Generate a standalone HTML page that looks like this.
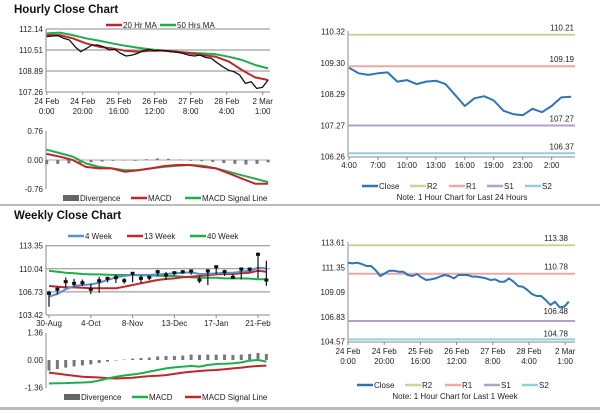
<!DOCTYPE html>
<html><head><meta charset="utf-8"><style>
html,body{margin:0;padding:0;background:#fff;}
svg{display:block;font-family:"Liberation Sans",Arial,sans-serif;}
text{fill:#222;font-size:8px;}
.t{font-size:11.5px;font-weight:bold;fill:#111;}
</style></head><body>
<svg id="chart" width="600" height="413" viewBox="0 0 600 413" xmlns="http://www.w3.org/2000/svg">
<text class="t" x="14" y="13">Hourly Close Chart</text>
<text class="t" x="14" y="219">Weekly Close Chart</text>
<rect x="0" y="204" width="600" height="2" fill="#bbb"/>
<rect x="0" y="407" width="600" height="3" fill="#bbb"/>
</svg>
<script>
// ---- Hourly (1 week) data ----
const hourlyClose=[111.55,111.60,111.62,111.42,111.29,110.77,110.38,110.64,110.90,110.90,110.77,110.51,110.56,110.25,110.05,110.12,110.25,110.46,110.56,110.46,110.51,110.46,110.38,110.33,110.25,110.12,110.05,110.12,109.94,109.87,109.53,109.22,108.96,108.83,108.57,107.93,108.06,107.54,107.62,108.19];
const ma20=[111.67,111.67,111.42,111.03,110.77,110.64,110.46,110.38,110.46,110.46,110.38,110.25,110.12,109.99,109.61,108.96,108.39,108.19];
const ma50=[111.80,111.86,111.67,111.42,111.24,111.03,110.85,110.69,110.56,110.46,110.38,110.30,110.25,110.18,109.99,109.74,109.35,109.09];
const hMacd=[0.16,0.09,0.00,-0.18,-0.22,-0.22,-0.31,-0.27,-0.22,-0.16,-0.13,-0.13,-0.18,-0.22,-0.35,-0.49,-0.62,-0.62];
const hSignal=[0.27,0.18,0.09,-0.09,-0.18,-0.22,-0.27,-0.27,-0.22,-0.18,-0.15,-0.13,-0.15,-0.22,-0.31,-0.40,-0.49,-0.58];
const hDiv=[-0.11,-0.10,-0.09,-0.09,-0.06,-0.04,-0.02,0,-0.02,0.02,0.04,0.03,0.01,-0.02,-0.03,-0.05,-0.08,-0.10,-0.12,-0.10,-0.06];
const hourTicks=['24 Feb|0:00','24 Feb|20:00','25 Feb|16:00','26 Feb|12:00','27 Feb|8:00','28 Feb|4:00','2 Mar|1:00'];
const tlYTicks=[112.14,110.51,108.89,107.26];
// ---- 24 hour data ----
const dayClose=[109.14,108.96,108.91,108.96,108.99,108.69,108.74,108.61,108.69,108.72,108.61,108.26,107.90,108.15,108.22,108.08,107.75,107.64,107.60,107.81,107.70,107.90,108.18,108.20];
const dayTicks=['4:00','7:00','10:00','13:00','16:00','19:00','23:00','2:00'];
const dayLevels=[110.21,109.19,107.27,106.37];
const trYTicks=[110.32,109.30,108.29,107.27,106.26];
// ---- week close (right) ----
const weekClose=[111.78,111.72,111.78,111.66,111.48,111.48,111.11,110.57,110.81,111.05,111.05,110.96,110.96,110.66,110.57,110.75,110.44,110.20,110.26,110.35,110.51,110.66,110.57,110.35,110.66,110.66,110.66,110.51,110.51,110.44,110.35,110.20,110.26,110.05,110.05,110.35,110.05,109.65,109.59,109.29,108.92,108.74,108.74,108.37,107.92,108.22,107.70,107.77,108.22];
const weekLevels=[113.38,110.78,106.46,104.78];
const brYTicks=[113.61,111.35,109.09,106.83,104.57];
// ---- weekly data ----
const wTicks=['30-Aug','4-Oct','8-Nov','13-Dec','17-Jan','21-Feb'];
const wClose=[106.52,107.10,108.20,107.96,108.05,107.10,108.34,108.67,108.77,108.34,109.39,108.67,108.82,109.63,109.15,109.48,109.63,109.72,108.43,109.72,110.34,109.63,108.82,110.01,110.01,112.11,108.43];
const wHigh=[106.9,107.5,108.8,108.6,108.5,107.9,108.9,108.9,109.2,108.7,109.6,109.1,109.1,109.9,109.6,109.7,109.8,109.9,109.0,110.0,110.5,109.9,109.3,110.2,110.2,112.4,111.2];
const wLow=[104.6,106.4,107.4,107.5,107.6,106.4,106.6,108.1,108.0,107.9,108.1,108.0,108.4,109.0,108.5,109.1,109.3,109.2,108.0,107.7,109.3,109.0,108.6,108.5,109.6,108.7,107.6];
const w4=[106.05,106.43,107.10,107.57,107.72,107.81,108.05,108.43,108.82,109.01,109.15,109.15,109.15,109.24,109.29,109.39,109.48,109.53,109.29,109.29,109.39,109.48,109.48,109.63,109.77,110.20,110.10];
const w13=[107.57,107.48,107.38,107.38,107.33,107.24,107.24,107.24,107.24,107.48,107.72,107.96,108.20,108.43,108.58,108.67,108.82,108.91,109.01,109.15,109.24,109.29,109.29,109.39,109.48,109.77,109.63];
const w40=[109.77,109.63,109.48,109.39,109.29,109.24,109.24,109.20,109.15,109.15,109.15,109.10,109.10,109.05,109.01,109.01,108.91,108.82,108.77,108.77,108.77,108.67,108.67,108.67,108.63,108.53,108.53];
const wYTicks=[113.35,110.04,106.73,103.42];
const wDiv=[-0.53,-0.45,-0.38,-0.32,-0.27,-0.22,-0.15,-0.08,-0.02,0.02,0.07,0.10,0.12,0.18,0.20,0.20,0.22,0.27,0.25,0.27,0.27,0.27,0.25,0.27,0.30,0.35,0.30];
const wMacd=[-1.17,-1.16,-1.15,-1.13,-1.12,-1.10,-1.02,-0.92,-0.83,-0.77,-0.72,-0.67,-0.58,-0.50,-0.42,-0.37,-0.33,-0.30,-0.33,-0.25,-0.20,-0.19,-0.17,-0.12,-0.03,0.00,-0.08];
const wSignal=[-0.63,-0.68,-0.73,-0.78,-0.83,-0.85,-0.87,-0.90,-0.92,-0.90,-0.88,-0.84,-0.80,-0.78,-0.75,-0.69,-0.63,-0.59,-0.55,-0.52,-0.50,-0.46,-0.42,-0.38,-0.33,-0.30,-0.28];

const NS='http://www.w3.org/2000/svg';
const svg=document.getElementById('chart');
function mk(tag,attrs){const e=document.createElementNS(NS,tag);for(const k in attrs)e.setAttribute(k,attrs[k]);svg.appendChild(e);return e;}
function txt(x,y,s,anchor,name){const t=mk('text',{x:x,y:y,'text-anchor':anchor||'start'});t.textContent=s;

return t;}
function hline(x1,x2,y,color,w,name){const l=mk('line',{x1:x1,x2:x2,y1:y,y2:y,stroke:color,'stroke-width':w});

return l;}
function vline(x,y1,y2,color,w,name){const l=mk('line',{x1:x,x2:x,y1:y1,y2:y2,stroke:color,'stroke-width':w});

return l;}
function series(vals,xf,yf,color,w,name){const pts=vals.map((v,i)=>xf(i).toFixed(1)+','+yf(v).toFixed(1)).join(' ');
const p=mk('polyline',{points:pts,fill:'none',stroke:color,'stroke-width':w,'stroke-linejoin':'round'});

return p;}
function legLine(x,y,color,label,name,w){hline(x,x+16,y,color,w||2.5,name+'-swatch');txt(x+17,y+3,label,'start',name);}
function legBox(x,y,label,name){const r=mk('rect',{x:x,y:y-3,width:16,height:6,fill:'#666'});


txt(x+17,y+3,label,'start',name);}
function bars(vals,xf,yf,w,name){vals.forEach((v,i)=>{const y0=yf(0),y1=yf(v);
const r=mk('rect',{x:xf(i)-w/2,y:Math.min(y0,y1),width:w,height:Math.max(0.5,Math.abs(y1-y0)),fill:'#777'});

});}
function hourTickLabels(xh,yTop){hourTicks.forEach((s,k)=>{const [a,b]=s.split('|');const x=xh(20*k);
txt(x,yTop,a,'middle','x-tick-label');txt(x,yTop+10,b,'middle','x-tick-label');});}

// ===== Top-left hourly price =====
const tlY=v=>29+(112.14-v)/(112.14-107.26)*63;
const tlXh=h=>46.7+h*1.8;
tlYTicks.forEach(v=>{hline(46,270,tlY(v),'#8a8a8a',1,'y-gridline');txt(43,tlY(v)+3,v.toFixed(2),'end','y-tick-label');});
vline(46,29,92,'#888',1,'y-axis');
hourTicks.forEach((s,k)=>vline(tlXh(20*k),92,95,'#888',1,'x-tick'));
hourTickLabels(tlXh,104);
series(ma50,i=>tlXh(i*123/(ma50.length-1)),tlY,'#1fae4b',2,'ma50-line');
series(ma20,i=>tlXh(i*123/(ma20.length-1)),tlY,'#c0272d',2,'ma20-line');
series(hourlyClose,i=>tlXh(i*123/(hourlyClose.length-1)),tlY,'#111',1.3,'hourly-close-line');
legLine(106,25,'#c0272d','20 Hr MA','legend-20hr-ma');
legLine(160,25,'#1fae4b','50 Hrs MA','legend-50hrs-ma');

// ===== Top-left MACD =====
const tmY=v=>160-v/0.76*29;
[0.76,0,-0.76].forEach(v=>txt(43,tmY(v)+3,v.toFixed(2),'end','y-tick-label'));
vline(46,131,189,'#888',1,'y-axis');
hline(46,270,tmY(0),'#aaa',1,'zero-line');
bars(hDiv,i=>tlXh(i*123/(hDiv.length-1)),tmY,3,'divergence-bar');
series(hSignal,i=>tlXh(i*123/(hSignal.length-1)),tmY,'#1fae4b',2,'macd-signal-line');
series(hMacd,i=>tlXh(i*123/(hMacd.length-1)),tmY,'#c0272d',2,'macd-line');
legBox(63,198,'Divergence','legend-divergence');
legLine(131,198,'#c0272d','MACD','legend-macd');
legLine(185,198,'#1fae4b','MACD Signal Line','legend-macd-signal');

// ===== Top-right 24h =====
const trY=v=>31.3+(110.32-v)/4.06*125.4;
const trX=i=>349+i*9.65;
const lvlColors=['#c4d79b','#eea9a5','#b1a0c7','#8fd0dc'];
const lvlNames=['r2','r1','s1','s2'];
trYTicks.forEach(v=>txt(345,trY(v)+3,v.toFixed(2),'end','y-tick-label'));
vline(348,31,157,'#888',1,'y-axis');
hline(348,575,157,'#888',1,'x-axis');
dayTicks.forEach((s,k)=>{vline(trX(3*k),157,160,'#888',1,'x-tick');txt(trX(3*k),168,s,'middle','x-tick-label');});
dayLevels.forEach((v,k)=>{hline(348,575,trY(v),lvlColors[k],2,lvlNames[k]+'-line');txt(574,trY(v)-4,v.toFixed(2),'end',lvlNames[k]+'-value');});
series(dayClose,trX,trY,'#2e75b6',2,'close-24h-line');
legLine(362,186,'#2e75b6','Close','legend-close');
legLine(410,186,lvlColors[0],'R2','legend-r2');
legLine(449,186,lvlColors[1],'R1','legend-r1');
legLine(487,186,lvlColors[2],'S1','legend-s1');
legLine(525,186,lvlColors[3],'S2','legend-s2');
txt(462,200,'Note: 1 Hour Chart for Last 24 Hours','middle','chart-note').setAttribute('font-size','6.5');

// ===== Weekly price =====
const wY=v=>245.7+(113.35-v)/9.93*69.3;
const wX=i=>49+i*8.36;
wYTicks.forEach(v=>{hline(46,270,wY(v),'#8a8a8a',1,'y-gridline');txt(43,wY(v)+3,v.toFixed(2),'end','y-tick-label');});
vline(46,245,315,'#888',1,'y-axis');
wTicks.forEach((s,k)=>{vline(wX(5*k),315,318,'#888',1,'x-tick');txt(wX(5*k),326,s,'middle','x-tick-label');});
series(w40,wX,wY,'#1fae4b',2,'40-week-line');
series(w13,wX,wY,'#c0272d',2,'13-week-line');
series(w4,wX,wY,'#5b8fd0',2,'4-week-line');
wClose.forEach((v,i)=>{vline(wX(i),wY(wHigh[i]),wY(wLow[i]),'#111',1.2,'weekly-candle-range');
const r=mk('rect',{x:wX(i)-2,y:wY(v)-1.5,width:4,height:3,fill:'#111'});

});
legLine(68,236,'#5b8fd0','4 Week','legend-4-week');
legLine(127,236,'#c0272d','13 Week','legend-13-week');
legLine(190,236,'#1fae4b','40 Week','legend-40-week');

// ===== Weekly MACD =====
const wmY=v=>360-v/1.36*27.3;
[1.36,0,-1.36].forEach(v=>txt(43,wmY(v)+3,v.toFixed(2),'end','y-tick-label'));
vline(46,333,388,'#888',1,'y-axis');
bars(wDiv,wX,wmY,3,'weekly-divergence-bar');
series(wSignal,wX,wmY,'#c0272d',2,'weekly-macd-signal-line');
series(wMacd,wX,wmY,'#1fae4b',2,'weekly-macd-line');
legBox(64,397,'Divergence','legend-weekly-divergence');
legLine(132,397,'#1fae4b','MACD','legend-weekly-macd');
legLine(185,397,'#c0272d','MACD Signal Line','legend-weekly-macd-signal');

// ===== Bottom-right week =====
const brY=v=>242.7+(113.61-v)/9.04*99;
const brXh=h=>348+h*1.81;
brYTicks.forEach(v=>txt(345,brY(v)+3,v.toFixed(2),'end','y-tick-label'));
vline(348,242,342,'#888',1,'y-axis');
hline(348,575,342,'#888',1,'x-axis');
hourTicks.forEach((s,k)=>vline(brXh(20*k),342,345,'#888',1,'x-tick'));
hourTickLabels(brXh,354);
weekLevels.forEach((v,k)=>hline(348,575,brY(v),lvlColors[k],2,lvlNames[k]+'-week-line'));
txt(568,brY(113.38)-4,'113.38','end','r2-week-value');
txt(568,brY(110.78)-4,'110.78','end','r1-week-value');
txt(568,314,'106.48','end','close-low-value');
txt(568,brY(104.78)-3,'104.78','end','s2-week-value');
series(weekClose,i=>brXh(i*122/(weekClose.length-1)),brY,'#2e75b6',2,'close-week-line');
legLine(357,385,'#2e75b6','Close','legend-week-close');
legLine(405,385,lvlColors[0],'R2','legend-week-r2');
legLine(445,385,lvlColors[1],'R1','legend-week-r1');
legLine(484,385,lvlColors[2],'S1','legend-week-s1');
legLine(522,385,lvlColors[3],'S2','legend-week-s2');
txt(455,399,'Note: 1 Hour Chart for Last 1 Week','middle','chart-note-week').setAttribute('font-size','6.5');
</script>
</body></html>
